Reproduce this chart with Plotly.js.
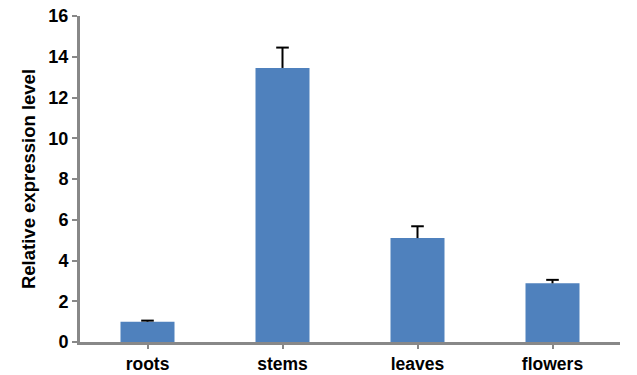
<!DOCTYPE html>
<html>
<head>
<meta charset="utf-8">
<script src="https://cdn.plot.ly/plotly-3.0.1.min.js"></script>
<style>html,body{margin:0;padding:0;background:#fff;}#chart{width:637px;height:375px;}</style>
</head>
<body>
<div id="chart"></div>
<script>
const categories = ["roots", "stems", "leaves", "flowers"];
const values = [1.0, 13.45, 5.1, 2.88];
const errors = [0.05, 1.0, 0.58, 0.17];
const yTicks = [0, 2, 4, 6, 8, 10, 12, 14, 16];

const barTrace = {
  type: "bar",
  x: categories,
  y: values,
  marker: {color: "#4F81BD"},
  error_y: {type: "data", symmetric: false, array: errors, arrayminus: errors.map(() => 0),
            color: "#000000", thickness: 2, width: 0},
  hoverinfo: "none"
};
const capTrace = {
  type: "scatter",
  mode: "markers",
  x: categories,
  y: values.map((v, i) => v + errors[i]),
  marker: {symbol: "line-ew", size: 9, line: {color: "#000000", width: 2}},
  hoverinfo: "none"
};
const xfont = {family: "Liberation Sans, Arial, sans-serif", size: 17.5, color: "#000", weight: 700};
const yfont = {family: "Liberation Sans, Arial, sans-serif", size: 18, color: "#000", weight: 700};
const layout = {
  width: 637, height: 375,
  margin: {l: 80, r: 17, t: 16, b: 33},
  paper_bgcolor: "#fff", plot_bgcolor: "#fff",
  bargap: 0.6,
  showlegend: false,
  xaxis: {
    showline: true, linecolor: "#888888", linewidth: 3,
    ticks: "outside", ticklen: 4, tickwidth: 2, tickcolor: "#888888",
    tickfont: xfont, showgrid: false, zeroline: false
  },
  yaxis: {
    range: [0, 16], tickvals: yTicks, ticktext: yTicks.map(String),
    showline: true, linecolor: "#888888", linewidth: 3,
    ticks: "outside", ticklen: 5, tickwidth: 2, tickcolor: "#888888",
    tickfont: yfont, showgrid: false, zeroline: false,
    title: {text: "Relative expression level", font: {family: xfont.family, size: 18.5, color: "#000", weight: 700}, standoff: 8}
  }
};
Plotly.newPlot("chart", [barTrace, capTrace], layout, {displayModeBar: false, staticPlot: true});
</script>
</body>
</html>
